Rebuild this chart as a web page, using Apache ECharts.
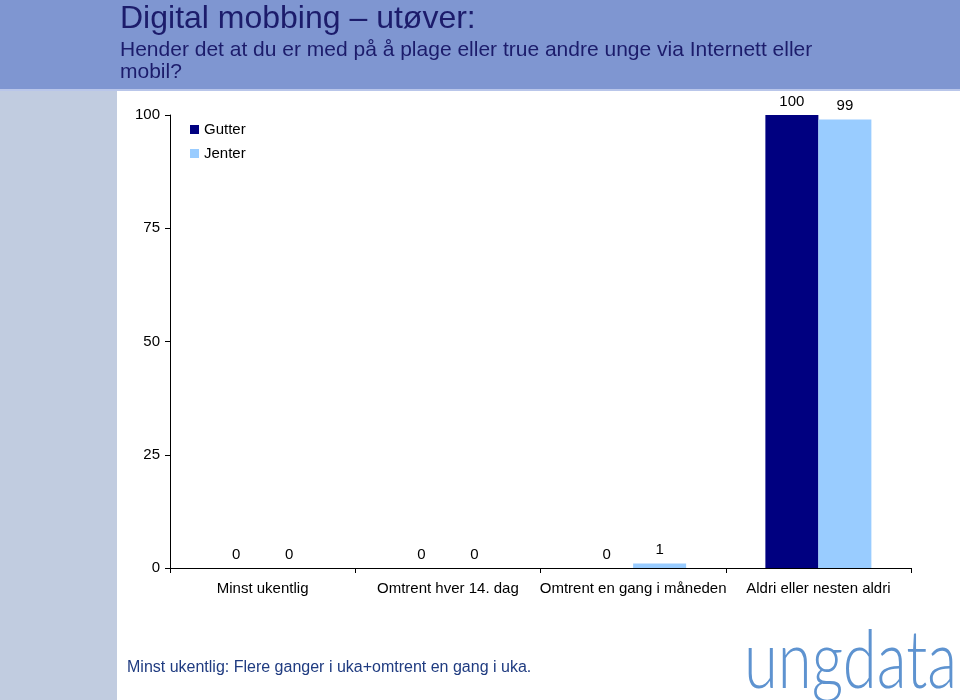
<!DOCTYPE html>
<html><head><meta charset="utf-8">
<script src="https://cdn.jsdelivr.net/npm/echarts@6/dist/echarts.min.js"></script>
<style>html,body{margin:0;padding:0;background:#fff}#c{width:960px;height:700px}</style>
</head><body><div id="c"></div>
<script>
const categories = ['Minst ukentlig', 'Omtrent hver 14. dag', 'Omtrent en gang i måneden', 'Aldri eller nesten aldri'];
const gutter = [0, 0, 0, 100];
const jenter = [0, 0, 1, 99];
const yTicks = [0, 25, 50, 75, 100];

const chart = echarts.init(document.getElementById('c'));
const font = 'Liberation Sans';
chart.setOption({
  animation: false,
  backgroundColor: '#fff',
  textStyle: { fontFamily: font },
  graphic: [
    { type: 'rect', z: -5, shape: { x: 0, y: 0, width: 960, height: 90 }, style: { fill: '#7F96D1' } },
    { type: 'rect', z: -5, shape: { x: 0, y: 89, width: 960, height: 2 }, style: { fill: '#B9C6EA' } },
    { type: 'rect', z: -5, shape: { x: 0, y: 91, width: 117, height: 609 }, style: { fill: '#C1CCE0' } },
    { type: 'text', left: 120, top: 3, style: { text: 'Digital mobbing – utøver:', font: '32px "Liberation Sans"', fill: '#1C1C6B' } },
    { type: 'text', left: 120, top: 39, style: { text: 'Hender det at du er med på å plage eller true andre unge via Internett eller\nmobil?', font: '21px "Liberation Sans"', lineHeight: 22, fill: '#1C1C6B' } },
    { type: 'text', left: 127, top: 660, style: { text: 'Minst ukentlig: Flere ganger i uka+omtrent en gang i uka.', font: '16px "Liberation Sans"', fill: '#1F3B80' } },
    { type: 'text', x: 744, y: 622, scaleX: 0.77, style: { text: 'ungdata', font: '300 80px Lato', fill: '#5E93D0' } }
  ],
  legend: {
    orient: 'vertical', left: 185, top: 117, itemWidth: 9, itemHeight: 9, itemGap: 9,
    icon: 'rect', textStyle: { fontSize: 15, color: '#000', fontFamily: font },
    data: ['Gutter', 'Jenter']
  },
  grid: { left: 170, right: 49, top: 115, bottom: 132, containLabel: false },
  xAxis: {
    type: 'category', data: categories,
    axisLine: { lineStyle: { color: '#000' } },
    axisTick: { show: true, length: 5, alignWithLabel: false, lineStyle: { color: '#000' } },
    axisLabel: { color: '#000', fontSize: 15, margin: 13, interval: 0, fontFamily: font }
  },
  yAxis: {
    type: 'value', min: 0, max: 100, interval: 25,
    splitLine: { show: false },
    axisLine: { show: true, lineStyle: { color: '#000' } },
    axisTick: { show: true, length: 5, lineStyle: { color: '#000' } },
    axisLabel: { color: '#000', fontSize: 15, margin: 10, fontFamily: font,
      formatter: v => yTicks.includes(v) ? String(v) : '' }
  },
  series: [
    { name: 'Gutter', type: 'bar', data: gutter, barWidth: 53, barGap: '0%', itemStyle: { color: '#000080' },
      label: { show: true, position: 'top', distance: 6, color: '#000', fontSize: 15, fontFamily: font } },
    { name: 'Jenter', type: 'bar', data: jenter, barWidth: 53, barGap: '0%', itemStyle: { color: '#99CCFF' },
      label: { show: true, position: 'top', distance: 6, color: '#000', fontSize: 15, fontFamily: font } }
  ]
});
</script></body></html>
